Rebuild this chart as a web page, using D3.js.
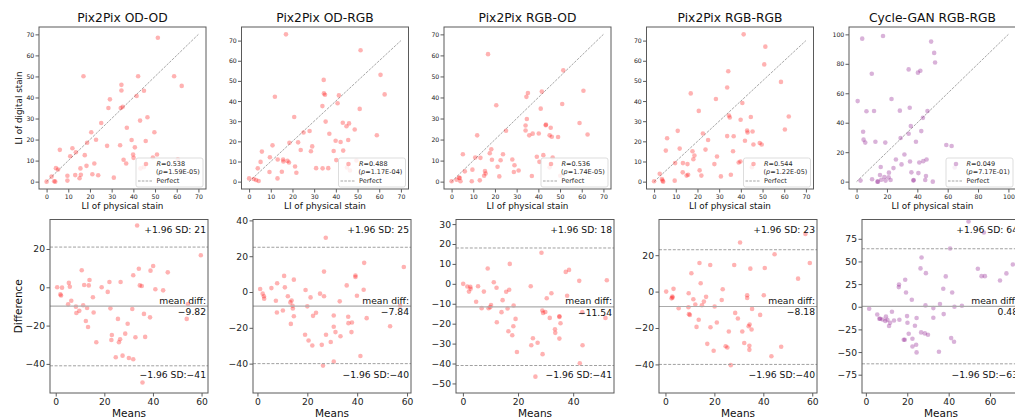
<!DOCTYPE html>
<html>
<head>
<meta charset="utf-8">
<script src="https://cdn.jsdelivr.net/npm/d3@7"></script>
<style>
  body { margin: 0; background: #fff; }
  svg { display: block; font-family: "DejaVu Sans", sans-serif; }
</style>
</head>
<body>
<svg width="1015" height="418"></svg>
<script>
// panel titles and stats shown in legends / annotations
const titles = ["Pix2Pix OD-OD", "Pix2Pix OD-RGB", "Pix2Pix RGB-OD", "Pix2Pix RGB-RGB", "Cycle-GAN RGB-RGB"];
const rValues = ["0.538", "0.488", "0.536", "0.544", "0.049"];
const pValues = ["1.59E-05", "1.17E-04", "1.74E-05", "1.22E-05", "7.17E-01"];
const upperSD = [21, 25, 18, 23, 64];
const meanDiff = [-9.82, -7.84, -11.54, -8.18, 0.48];
const lowerSD = [-41, -40, -41, -40, -63];
const perfectMax = [70, 70, 70, 70, 100];

// tick labels
const liTicks = [0, 10, 20, 30, 40, 50, 60, 70];
const liTicksCycle = [0, 20, 40, 60, 80, 100];
const meansTicks = [[0, 20, 40, 60], [0, 20, 40, 60], [0, 20, 40], [0, 20, 40, 60], [0, 20, 40, 60]];
const diffTicks = [
  [-40, -20, 0, 20],
  [-40, -20, 0, 20, 40],
  [-50, -40, -30, -20, -10, 0, 10, 20, 30],
  [-40, -20, 0, 20],
  [-75, -50, -25, 0, 25, 50, 75]
];
const diffLimits = [[-55.2, 35.4], [-56.4, 40.5], [-54.8, 32.3], [-55.7, 39.6], [-95.2, 96.3]];

// [LI of physical stain, LI of digital stain]
const odOd = [[0,0],[2.3,2.4],[3.5,0.2],[4,0],[4.3,6.4],[5.3,5.8],[6.1,15.1],[9.6,0.5],[9.6,2.8],[10.9,12.1],[11.9,15.9],[13.2,3.1],[13.5,14],[15.2,1.6],[15.6,6.3],[15.8,3.3],[17,50.1],[17.6,12.6],[18.4,7.5],[18.7,18.5],[20.6,23.5],[21.1,3.5],[22,8.6],[22.8,19.9],[23.8,3],[25.2,27.9],[27.9,17],[28.5,35],[29.2,39.1],[31,1.9],[33.9,17.3],[34.2,35],[34.5,46],[34.5,43.3],[35.1,35.6],[35.5,10.4],[36.7,8.6],[37,25.6],[39.2,19.8],[39.9,12.9],[40.1,11.3],[40.7,16.3],[41.5,40.7],[42.2,50.1],[43.1,29],[43.3,6.3],[44.9,43.2],[44.9,6.9],[45.7,19.3],[46.5,30.6],[49,11.5],[49.7,23.5],[50.9,12.9],[51.3,68.4],[58.8,50.1],[62.3,45.5],[60.5,10.5]];
const odRgb = [[0,1.6],[2.1,1.3],[3.2,0.8],[4,6.6],[4.4,0.3],[5.3,9.8],[5.9,14.9],[9.4,4.8],[9.6,12.1],[10.8,18],[11.9,42.1],[13.1,1.6],[13.2,11],[15.1,4.9],[15.7,11],[15.8,10],[17,73.1],[17.7,10.3],[18.4,9.5],[18.6,19.3],[20.8,32.1],[21.2,7.5],[21.8,4.4],[22.6,19.5],[23.8,15.7],[25.1,24.4],[27.9,25.1],[28.5,15.1],[29.1,17.5],[30.9,6.7],[33.8,37.5],[33.9,6.6],[34.4,50.5],[34.5,43.8],[35,43.1],[35.3,29.8],[36.5,6.7],[37,23.8],[39,15.2],[39.9,20.3],[40.2,10.7],[40.8,38.9],[41.4,42.8],[42.2,19.7],[43.2,29.2],[43.4,15.4],[44.9,27.5],[45.1,7],[45.7,20.7],[46.1,28.9],[48.7,25.9],[51,36.1],[51.4,65.2],[58.9,23],[60.6,53],[62.5,43.3],[46.5,5.5],[49.5,10.5]];
const rgbOd = [[0,0.2],[2.3,0.9],[3.4,1.9],[3.8,1.7],[4.1,0.2],[5.2,13],[6.1,4.9],[9.3,0.2],[9.6,5.7],[10.9,11.5],[11.8,22],[13,0.6],[13.3,11.3],[15,2.8],[15.4,5],[15.7,3.9],[16.8,60.6],[17.6,13.5],[18.3,15.4],[18.6,10.4],[20.6,36.3],[21.2,7.1],[22,2.5],[22.6,10.2],[23.7,13],[25.1,24.2],[28,10.5],[28.7,4.6],[29,7.8],[30.9,5.3],[34.1,26.7],[34.1,24.3],[34.5,40.3],[34.7,29.8],[35.2,42.1],[35.8,22],[37,2.7],[37.4,22.8],[39.3,11.8],[40.2,22.9],[40.5,9.4],[41.1,34.7],[41.6,42.8],[42.3,12.6],[43.4,26.8],[43.5,27.1],[45.2,6.8],[45.2,22],[45.7,25.6],[46.2,21.3],[46.6,11.5],[49.1,21.2],[50.1,2.8],[51,36.9],[51.5,52.9],[59,27.9],[60.8,43.2],[62.7,22.4]];
const rgbRgb = [[0,0.2],[2.6,3.9],[3.6,1.3],[3.9,0.5],[4.2,0],[5.4,15.4],[6,21.5],[9.5,0.5],[9.7,9.2],[10.9,25.2],[11.8,16.4],[13.2,4.6],[13.3,9.2],[15,3],[15.4,8.7],[15.7,3.4],[16.9,43.8],[17.7,15.1],[18.1,11.1],[18.6,13],[20.6,35.1],[21,5.6],[21.8,3],[22.5,23.9],[23.7,15.9],[24.9,20.7],[27.8,8.7],[28.5,41],[29,12.5],[30.8,2.6],[33.7,22.6],[33.7,46.7],[34.2,54.8],[34.5,32.8],[34.9,31.8],[35.4,3.4],[36.4,15.1],[36.7,22.5],[39,9.5],[39.8,10],[39.9,30.7],[40.7,39],[41.3,73.1],[41.9,20.3],[42.9,25.4],[43.1,24.4],[44.6,32.1],[45.1,7.2],[45.4,24.9],[45.8,18.4],[48.7,19.2],[49.6,18.4],[50.8,58.2],[51.3,67],[58.5,49.5],[60.3,25.9],[62.1,32.3]];
const cycleRgb = [[0.7,54.7],[2.6,0.7],[3.7,97.1],[4.3,33.9],[4.6,28.5],[5.7,26.5],[6.5,47.8],[10,73.3],[10.2,1.6],[11.5,48],[12.4,27.1],[13.7,0],[14.1,0],[15.9,9.9],[15.4,4.5],[16.3,1.3],[17.4,98.9],[18.3,3.1],[18.9,26.5],[19.1,0.7],[21.1,2.9],[21.3,6.1],[22.4,1.1],[23,56.1],[24.3,9.2],[25.9,15],[28.5,48.2],[29,29.6],[29.6,11.7],[31.5,18.4],[34.3,76.2],[34.3,32.5],[35,50.2],[35.2,13.7],[35.7,37.7],[36.1,6.3],[37.4,0.7],[37.6,1.1],[39.1,27.1],[40.4,74],[40.7,5.8],[41.3,13],[42,75.3],[42.6,34.3],[43.7,43.3],[43.9,13.9],[45.2,1.1],[45.7,3.8],[46.1,15],[46.7,48],[49.1,95.1],[50.2,0],[51.1,87.4],[51.7,80.9],[59.1,24.9],[62.6,24.2],[64.6,9.6]];

// Bland-Altman: [means, difference]
const odOdBA = [[0.6,0],[1.9,-3.7],[2.2,-4.3],[2.6,-0.2],[5.4,2.3],[5.8,0.3],[5.1,-8.9],[6.4,-7],[8.3,-10.1],[8.5,-13.4],[9.7,-12.3],[10.7,8.9],[11.3,-9.4],[11.7,1.2],[12.4,-17.6],[12.9,-10.8],[13.3,-20.7],[13.6,1],[13.9,3.8],[15.3,-5.2],[15.6,-13.2],[16.7,-28.7],[18.9,0],[21.4,-2.4],[22.1,2.8],[22.5,-11],[22.9,-27.5],[23.1,-24.9],[24.7,-36.5],[25.6,-16.5],[26,-28.7],[26.5,-27.1],[26.7,2.8],[27.5,-35.7],[28.6,-24.2],[29.6,-19],[30.1,-36.9],[31.5,-11.3],[31.9,-37.6],[31.9,6.3],[32.8,-26.1],[33.5,32.3],[34.2,9.7],[34.6,1],[35.4,0.7],[35.7,-49.7],[36.3,-13.9],[36.8,-25.9],[38.8,-15.7],[39,8.7],[40.1,11.1],[41,-1],[44.2,-1.6],[46.1,7.8],[53.9,-16.5],[54.4,-8.7],[59.7,16.7]];
const odRgbBA = [[1.1,1.7],[2.1,-0.9],[2.6,-2.4],[2.7,-3.7],[5.6,2.2],[7.4,-4.9],[7.9,4.9],[7.8,-11.4],[10.2,-10.3],[10.7,9],[11,2.6],[12.2,-2.4],[13.2,-5.8],[13.7,-4.7],[13.4,-17.8],[14.1,-7.7],[14.2,-9.2],[14.6,6.9],[14.6,-13.5],[19.1,-23.9],[19.3,1.1],[20,-8],[20.5,-27.1],[21.3,-3],[22,-29.9],[22.3,-13.3],[23.5,-11.6],[25.1,-0.9],[25.8,-29.5],[26.3,-41.1],[26.7,11.4],[26.7,-2.4],[27.4,30.3],[27.5,-23.9],[29.4,-27.9],[30.6,-13.1],[30.6,-19.4],[30.6,-38.9],[31.3,-22.4],[33,-5.2],[33.3,-24.7],[35.8,3.7],[36.4,-13.8],[36.5,-17.4],[37.9,-17],[37.7,-22.4],[39.3,8.4],[39.3,9.2],[39.9,-2.1],[41.3,-35.7],[42.6,1.3],[42.8,16.3],[43.8,-14.6],[53.2,-19.1],[57.2,-7.7],[58.7,14]];
const rgbOdBA = [[0.1,0],[1.6,-1.3],[2.2,-3.9],[2.7,-1.5],[2.8,-2.5],[4.8,-9],[5.5,-1.2],[6.8,-12.2],[7.6,-3.9],[9,7.7],[9.3,-12.2],[9.9,-11.7],[10.2,-10.6],[11.2,0.8],[12.2,-2],[12.3,-19.3],[14,-14.2],[14.4,-8.2],[15.7,-4],[16.2,-12.4],[16.5,-23.8],[16.8,-3],[17,10],[17.9,-25.8],[18.3,-21.3],[18.4,-10.9],[19.1,-17.6],[19.6,-34.2],[24.6,-1.2],[24.8,-30.8],[25.4,-27.3],[26.3,-46.6],[27.1,-29.6],[28.5,15.6],[28.8,-13.4],[28.9,-35.3],[29.1,-14.6],[29.9,-14.1],[30.4,-7.2],[31.5,-17.1],[32.1,-4.7],[33.4,-22.8],[33.5,-24.6],[35,-16.3],[35,-16.6],[35,-27.5],[35.4,-19.8],[37.3,6],[37.8,-6],[38.5,7],[42.2,1.5],[42.4,-39.9],[43.3,-14.2],[43.4,-30.8],[51.7,-17.1],[52.2,1.8]];
const rgbRgbBA = [[0.3,0],[2.5,-3.7],[2.8,-2.7],[2.9,-3.3],[3.3,1.5],[5.4,-9.1],[9.4,-8.6],[9.5,-0.9],[9.6,-12.4],[10,-12.8],[10.6,10.1],[11.4,-4.2],[12.2,-7.1],[12.7,-19.4],[13.6,-15.5],[13.9,15.7],[14.4,4.6],[14.9,-7.5],[15.7,-5.5],[16.6,-2.9],[17.1,-28.7],[18.4,-19.6],[18.3,14.6],[19.7,-32.5],[20.1,-8.2],[21,-17],[23,-4.6],[23.4,1.3],[24.6,-30],[25.3,-30.7],[25.9,-21.9],[26.7,-40.4],[28.1,14.6],[28.5,-11.7],[29.6,-14.8],[30.5,27],[31.4,-21.9],[32.2,-28.2],[33.4,-2],[33.4,-3.5],[34,-19],[34.3,-29.8],[34.3,-32],[34.4,-18.1],[34.7,12.6],[35.4,-9.5],[35.2,-20.8],[38.7,-12.8],[40.2,-2],[40.6,13],[43.3,-35.5],[44.6,20.5],[47.3,-30.3],[54.2,7.1],[57.2,31.6],[59,15.7]];
const cycleRgbBA = [[1.6,-2.2],[5.5,-8.5],[6.5,-13.2],[6.9,-13.2],[8.1,-14],[9.4,-15.8],[9.7,-10.7],[10.4,-14.3],[11.2,-21.3],[11.7,-17.6],[12.6,-5.5],[13.6,-15.1],[15.9,21.7],[16,24.6],[16.2,-14.3],[18.3,-36.4],[18.8,-36.4],[19,29.8],[19.4,15.8],[19.9,-10.3],[20.1,-17.6],[20.7,-29.8],[22.2,7.7],[22.5,-43.8],[22.5,-35.3],[23.7,-21],[24.3,-41.9],[24.5,-12.5],[24.5,-50.4],[26.4,42.3],[26.7,-28.3],[26.9,54.4],[28.5,-29.4],[28.8,1.5],[29,37.1],[30,-30.9],[32.6,-1.5],[32.6,-12.1],[35.3,-49.6],[35.8,2.9],[37.4,19.9],[37.6,-8.1],[38.6,33.5],[41.2,-34.6],[40.7,64.3],[41.7,15.8],[42.6,-38.6],[42.8,0],[46.4,1.1],[49.6,94.1],[54.1,41.9],[55.9,33.8],[57.5,33.8],[57,82],[64.8,29],[67.9,36.8],[71,46.7]];

const scatterSets = [odOd, odRgb, rgbOd, rgbRgb, cycleRgb];
const baSets = [odOdBA, odRgbBA, rgbOdBA, rgbRgbBA, cycleRgbBA];
const colors = ["red", "red", "red", "red", "purple"];

const svg = d3.select("svg");

const topX0 = 39, topStep = 202.5, topW = 167, topY = 27, topH = 162;
const botX0 = 50, botStep = 203, botW = 158, botY = 219.5, botH = 173.5;

const withMargin = (lo, hi) => {
  const m = (hi - lo) * 0.05;
  return [lo - m, hi + m];
};
const minus = v => (v < 0 ? "\u2212" : "") + Math.abs(v);

titles.forEach((title, i) => {
  const data = scatterSets[i];
  const color = colors[i];

  // ---------- top row: scatter vs perfect line ----------
  const left = topX0 + i * topStep;
  const g = svg.append("g").attr("transform", `translate(${left},${topY})`);

  const x = d3.scaleLinear()
    .domain(withMargin(Math.min(0, d3.min(data, d => d[0])), Math.max(perfectMax[i], d3.max(data, d => d[0]))))
    .range([0, topW]);
  const y = d3.scaleLinear()
    .domain(withMargin(Math.min(0, d3.min(data, d => d[1])), Math.max(perfectMax[i], d3.max(data, d => d[1]))))
    .range([topH, 0]);

  const ticks = perfectMax[i] === 100 ? liTicksCycle : liTicks;

  g.append("line")
    .attr("x1", x(0)).attr("y1", y(0))
    .attr("x2", x(perfectMax[i])).attr("y2", y(perfectMax[i]))
    .attr("stroke", "#7f7f7f").attr("stroke-width", 0.7)
    .attr("stroke-dasharray", "2.6,1.2");

  g.selectAll("circle.pt")
    .data(data)
    .enter()
    .append("circle")
    .attr("class", "pt")
    .attr("cx", d => x(d[0]))
    .attr("cy", d => y(d[1]))
    .attr("r", 2.3)
    .attr("fill", color)
    .attr("fill-opacity", 0.3);

  const xAxis = g.append("g").attr("transform", `translate(0,${topH})`)
    .call(d3.axisBottom(x).tickValues(ticks).tickSize(3.5).tickPadding(1.6));
  const yAxis = g.append("g")
    .call(d3.axisLeft(y).tickValues(ticks).tickSize(3.5).tickPadding(1.2));
  [xAxis, yAxis].forEach(a => {
    a.select(".domain").remove();
    a.selectAll("line").attr("stroke", "#333").attr("stroke-width", 0.8);
    a.selectAll("text").attr("font-size", 6.2).attr("fill", "#222").attr("font-family", "DejaVu Sans");
  });

  g.append("rect")
    .attr("width", topW).attr("height", topH)
    .attr("fill", "none").attr("stroke", "#5a5a5a").attr("stroke-width", 1);

  // legend
  const lg = g.append("g").attr("transform", `translate(${topW - 3 - 67},${topH - 2 - 29})`);
  lg.append("rect").attr("width", 67).attr("height", 29).attr("rx", 2)
    .attr("fill", "white").attr("fill-opacity", 0.8)
    .attr("stroke", "#d4d4d4").attr("stroke-width", 0.8);
  lg.append("circle").attr("cx", 10).attr("cy", 6).attr("r", 2.3)
    .attr("fill", color).attr("fill-opacity", 0.3);
  const t1 = lg.append("text").attr("x", 20.5).attr("y", 8)
    .attr("font-size", 6.5).attr("fill", "#262626");
  t1.append("tspan").attr("font-style", "italic").text("R");
  t1.append("tspan").text("=" + rValues[i]);
  const t2 = lg.append("text").attr("x", 20).attr("y", 15.5)
    .attr("font-size", 6.5).attr("fill", "#262626");
  t2.append("tspan").text("(");
  t2.append("tspan").attr("font-style", "italic").text("p");
  t2.append("tspan").text("=" + pValues[i] + ")");
  lg.append("line").attr("x1", 2).attr("x2", 17).attr("y1", 23).attr("y2", 23)
    .attr("stroke", "#7f7f7f").attr("stroke-width", 0.7).attr("stroke-dasharray", "2.6,1.2");
  lg.append("text").attr("x", 20.5).attr("y", 25.3)
    .attr("font-size", 6.5).attr("fill", "#262626").text("Perfect");

  g.append("text")
    .attr("x", topW / 2).attr("y", -5)
    .attr("text-anchor", "middle").attr("font-size", 12.3).attr("fill", "#111")
    .text(title);
  g.append("text")
    .attr("x", topW / 2).attr("y", topH + 19.5)
    .attr("text-anchor", "middle").attr("font-size", 8.8).attr("fill", "#111")
    .text("LI of physical stain");
  if (i === 0) {
    g.append("text")
      .attr("transform", `translate(${21.5 - left},${topH / 2}) rotate(-90)`)
      .attr("text-anchor", "middle").attr("font-size", 8.8).attr("fill", "#111")
      .text("LI of digital stain");
  }

  // ---------- bottom row: Bland-Altman ----------
  const ba = baSets[i];
  const bLeft = botX0 + i * botStep;
  const b = svg.append("g").attr("transform", `translate(${bLeft},${botY})`);

  const bx = d3.scaleLinear()
    .domain(withMargin(d3.min(ba, d => d[0]), d3.max(ba, d => d[0])))
    .range([0, botW]);
  const by = d3.scaleLinear().domain(diffLimits[i]).range([botH, 0]);

  b.selectAll("circle.pt")
    .data(ba)
    .enter()
    .append("circle")
    .attr("class", "pt")
    .attr("cx", d => bx(d[0]))
    .attr("cy", d => by(d[1]))
    .attr("r", 2.3)
    .attr("fill", color)
    .attr("fill-opacity", 0.3);

  b.append("line")
    .attr("x1", 0).attr("x2", botW)
    .attr("y1", by(meanDiff[i])).attr("y2", by(meanDiff[i]))
    .attr("stroke", "#ababab").attr("stroke-width", 1.2);
  [upperSD[i], lowerSD[i]].forEach(v => {
    b.append("line")
      .attr("x1", 0).attr("x2", botW)
      .attr("y1", by(v)).attr("y2", by(v))
      .attr("stroke", "#a0a0a0").attr("stroke-width", 1)
      .attr("stroke-dasharray", "3,1.6");
  });

  const bxAxis = b.append("g").attr("transform", `translate(0,${botH})`)
    .call(d3.axisBottom(bx).tickValues(meansTicks[i]).tickSize(3.5).tickPadding(1.5));
  const byAxis = b.append("g")
    .call(d3.axisLeft(by).tickValues(diffTicks[i]).tickSize(3.5).tickPadding(1.5));
  [bxAxis, byAxis].forEach(a => {
    a.select(".domain").remove();
    a.selectAll("line").attr("stroke", "#333").attr("stroke-width", 0.8);
    a.selectAll("text").attr("font-size", 9.2).attr("fill", "#222").attr("font-family", "DejaVu Sans");
  });

  b.append("rect")
    .attr("width", botW).attr("height", botH)
    .attr("fill", "none").attr("stroke", "#5a5a5a").attr("stroke-width", 1);

  const note = (txt, yy) => b.append("text")
    .attr("x", botW - 2).attr("y", yy).attr("dy", "0.35em")
    .attr("text-anchor", "end").attr("font-size", 9.2).attr("fill", "#111")
    .text(txt);
  note("+1.96 SD: " + upperSD[i], 10);
  note("mean diff:", by(meanDiff[i]) - 5.6);
  note((meanDiff[i] < 0 ? "\u2212" : "") + Math.abs(meanDiff[i]).toFixed(2), by(meanDiff[i]) + 5.6);
  note("\u22121.96 SD:" + minus(lowerSD[i]), botH - 18);

  b.append("text")
    .attr("x", botW / 2).attr("y", botH + 24)
    .attr("text-anchor", "middle").attr("font-size", 10.5).attr("fill", "#111")
    .text("Means");
  if (i === 0) {
    b.append("text")
      .attr("transform", `translate(${21.5 - bLeft},${botH / 2}) rotate(-90)`)
      .attr("text-anchor", "middle").attr("font-size", 10.5).attr("fill", "#111")
      .text("Difference");
  }
});
</script>
</body>
</html>
